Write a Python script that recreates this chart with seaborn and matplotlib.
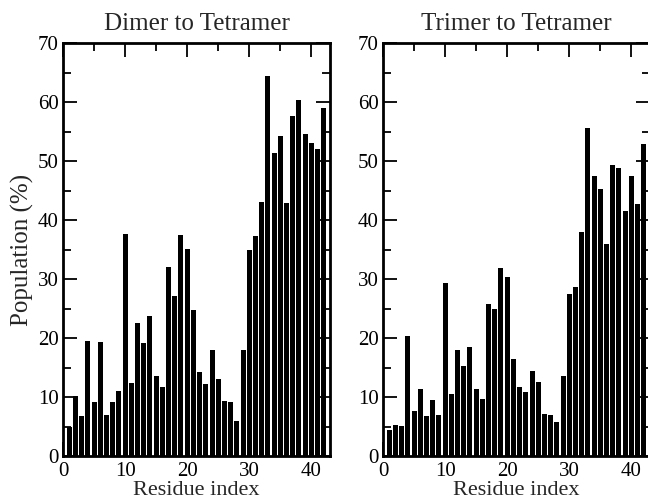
import numpy as np
import pandas as pd
import matplotlib
matplotlib.use("Agg")
import matplotlib.pyplot as plt
import seaborn as sns
from matplotlib.ticker import MultipleLocator

residues = list(range(1, 43))

dimer_to_tetramer = [
    4.9, 10.2, 6.8, 19.5, 9.2, 19.3, 7.0, 9.2, 11.0, 37.7,
    12.3, 22.6, 19.2, 23.7, 13.6, 11.7, 32.0, 27.2, 37.5, 35.1,
    24.8, 14.3, 12.2, 18.0, 13.0, 9.3, 9.1, 5.9, 17.9, 35.0,
    37.3, 43.1, 64.4, 51.3, 54.2, 42.9, 57.6, 60.3, 54.6, 53.1,
    52.0, 59.0,
]

trimer_to_tetramer = [
    4.4, 5.3, 5.1, 20.3, 7.7, 11.4, 6.8, 9.5, 6.9, 29.3,
    10.5, 17.9, 15.2, 18.4, 11.4, 9.7, 25.7, 24.9, 31.8, 30.4,
    16.5, 11.7, 10.8, 14.4, 12.5, 7.2, 6.9, 5.7, 13.5, 27.4,
    28.6, 38.0, 55.6, 47.4, 45.2, 35.9, 49.3, 48.8, 41.6, 47.5,
    42.7, 52.9,
]

titles = ["Dimer to Tetramer", "Trimer to Tetramer"]
xlabel = "Residue index"
ylabel = "Population (%)"

sns.set_theme(style="ticks")
plt.rcParams["font.family"] = ["Liberation Serif", "DejaVu Serif"]

W, H = 648, 501
fig = plt.figure(figsize=(W / 100, H / 100), dpi=100)

panels = [
    (63, dimer_to_tetramer, titles[0]),
    (383, trimer_to_tetramer, titles[1]),
]

for i, (x0, values, title) in enumerate(panels):
    ax = fig.add_axes([x0 / W, (H - 456) / H, 267 / W, (456 - 43) / H])
    df = pd.DataFrame({"residue": residues, "population": values})
    sns.barplot(data=df, x="residue", y="population", native_scale=True,
                color="black", width=0.8, edgecolor="black", linewidth=0,
                saturation=1, ax=ax)
    ax.set_xlim(0, 43)
    ax.set_ylim(0, 70)
    ax.xaxis.set_major_locator(MultipleLocator(10))
    ax.xaxis.set_minor_locator(MultipleLocator(5))
    ax.yaxis.set_major_locator(MultipleLocator(10))
    ax.yaxis.set_minor_locator(MultipleLocator(5))
    ax.tick_params(which="both", direction="in", top=True, right=True,
                   width=1.3, colors="black", labelsize=15)
    ax.tick_params(axis="x", which="major", pad=4)
    ax.tick_params(axis="y", which="major", pad=3)
    ax.tick_params(which="major", length=10)
    ax.tick_params(which="minor", length=6)
    for s in ax.spines.values():
        s.set_linewidth(2)
        s.set_color("black")
        s.set_visible(True)
    ax.set_title(title, fontsize=18, pad=9)
    ax.set_xlabel(xlabel, fontsize=16, labelpad=0)
    if i == 0:
        ax.set_ylabel(ylabel, fontsize=18, labelpad=3)
    else:
        ax.set_ylabel("")

fig.savefig("out.png", dpi=100)
